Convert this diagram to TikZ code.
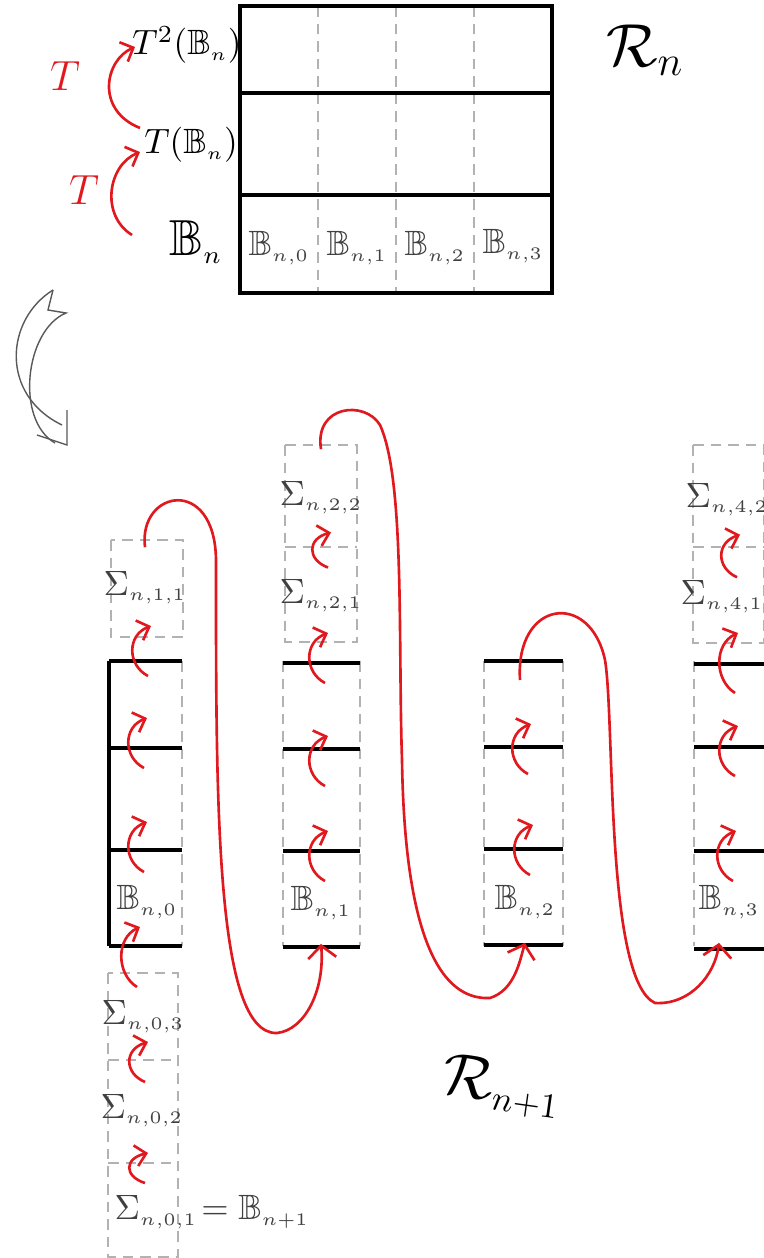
\documentclass[tikz,border=0pt]{standalone}
\usepackage{amsmath,amssymb}
\usepackage[dvipsnames]{xcolor}
\usetikzlibrary{arrows, arrows.meta}
\usetikzlibrary{positioning}

\definecolor{penred}{RGB}{225,25,30}
\tikzset{
	redarrow/.style={penred, line width=0.75pt, -{Straight Barb[length=3pt,width=6pt]}},
	redloop/.style={penred, line width=0.75pt, -{Straight Barb[length=3.5pt,width=8pt]}},
	thickline/.style={line width=1pt},
	cellline/.style={gray!60, densely dashed, line width=0.3pt},
	lbl/.style={text=black!75, font=\normalsize},
	tstep/.pic={\draw[redarrow] (5,-25) .. controls (-16,-14) and (-16,16) .. (8,25);}
}
\newcommand{\idx}[1]{_{\scriptscriptstyle #1}}

\begin{document}
\begin{tikzpicture}[x=0.01cm, y=0.01cm]
						\useasboundingbox (0,0) rectangle (764,-1258);
						\clip (0,0) rectangle (764,-1258);
						% tower R_n
						\draw[cellline] (318,-6) -- (318,-293) (396,-6) -- (396,-293) (474,-6) -- (474,-293);
						\draw[thickline] (240,-6) rectangle (552,-293);
						\draw[thickline] (240,-93) -- (552,-93) (240,-195) -- (552,-195);
						\node[font=\normalsize] (t2b) at (187,-45) {$T^2(\mathbb{B}\idx{n})$};
						\node[font=\normalsize] (t1b) at (191,-145) {$T(\mathbb{B}\idx{n})$};
						\node[font=\Large] (bn) at (196,-242) {$\mathbb{B}\idx{n}$};
						\node[lbl] (c0) at (279,-248) {$\mathbb{B}\idx{n,0}$};
						\node[lbl] (c1) at (357,-248) {$\mathbb{B}\idx{n,1}$};
						\node[lbl] (c2) at (435,-248) {$\mathbb{B}\idx{n,2}$};
						\node[lbl] (c3) at (513,-246) {$\mathbb{B}\idx{n,3}$};
						\node[font=\LARGE] (rn) at (645,-50) {$\mathcal{R}_n$};
						% T moves one floor up
						\node[penred, font=\large] (tt2) at (65,-76) {$T$};
						\node[penred, font=\large] (tt1) at (84,-190) {$T$};
						\draw[redarrow] (140,-128) .. controls (95,-110) and (105,-60) .. (135,-47);
						\draw[redarrow] (132,-235) .. controls (100,-215) and (108,-165) .. (140,-152);
						
						% hollow arrow
						\draw[gray!70!black, line width=0.4pt] (53,-290) .. controls (5,-320) and (0,-395) .. (62,-425);
						\draw[gray!70!black, line width=0.4pt] (53,-290) -- (48,-310) -- (66,-313) .. controls (25,-330) and (15,-420) .. (55,-443);
						\draw[gray!70!black, line width=0.4pt] (67,-410) -- (67,-445) -- (37,-435);
						
						% columns of R_{n+1}
						\draw[cellline] (182,-661) -- (182,-946) (283,-661) -- (283,-946) (360,-661) -- (360,-946)
							(484,-661) -- (484,-946) (563,-661) -- (563,-946) (694,-661) -- (694,-946);
						\draw[thickline] (109,-661) -- (109,-946);
						\draw[thickline] (109,-661) -- (182,-661) (109,-748) -- (182,-748) (109,-850) -- (182,-850) (109,-946) -- (182,-946);
						\draw[thickline] (283,-663) -- (360,-663) (283,-749) -- (360,-749) (283,-851) -- (360,-851) (283,-947) -- (360,-947);
						\draw[thickline] (484,-661) -- (563,-661) (484,-747) -- (563,-747) (484,-849) -- (563,-849) (484,-945) -- (563,-945);
						\draw[thickline] (694,-664) -- (780,-664) (694,-747) -- (780,-747) (694,-851) -- (780,-851) (694,-949) -- (780,-949);
						% spacers
						\draw[cellline] (111,-540) rectangle (183,-637);
						\draw[cellline] (285,-445) rectangle (357,-642) (285,-547) -- (357,-547);
						\draw[cellline] (693,-445) rectangle (764,-643) (693,-547) -- (764,-547);
						\draw[cellline] (108,-973) rectangle (178,-1257) (108,-1060) -- (178,-1060) (108,-1163) -- (178,-1163);
						
						\node[lbl] (s11) at (145,-588) {$\Sigma\idx{n,1,1}$};
						\node[lbl] (s22) at (321,-498) {$\Sigma\idx{n,2,2}$};
						\node[lbl] (s21) at (321,-596) {$\Sigma\idx{n,2,1}$};
						\node[lbl] (s42) at (727,-500) {$\Sigma\idx{n,4,2}$};
						\node[lbl] (s41) at (722,-597) {$\Sigma\idx{n,4,1}$};
						\node[lbl] (b0) at (147,-902) {$\mathbb{B}\idx{n,0}$};
						\node[lbl] (b1) at (321,-903) {$\mathbb{B}\idx{n,1}$};
						\node[lbl] (b2) at (525,-902) {$\mathbb{B}\idx{n,2}$};
						\node[lbl] (b3) at (729,-902) {$\mathbb{B}\idx{n,3}$};
						\node[lbl] (s03) at (143,-1017) {$\Sigma\idx{n,0,3}$};
						\node[lbl] (s02) at (142,-1111) {$\Sigma\idx{n,0,2}$};
						\node[lbl, anchor=west, inner sep=0pt] (s01) at (114,-1212) {$\Sigma\idx{n,0,1}\!=\mathbb{B}\idx{n+1}$};
						\node[font=\LARGE, rotate=-8] (rn1) at (502,-1087) {$\mathcal{R}\idx{n+1}$};
						
						% T inside the columns
						\pic at (143,-651) {tstep};
						\pic at (139,-743) {tstep};
						\pic at (139,-847) {tstep};
						\pic[yscale=1.2] at (132,-957) {tstep};
						\pic[yscale=0.8] at (140,-1062) {tstep};
						\pic[yscale=0.6] at (140,-1168) {tstep};
						\pic at (320,-658) {tstep};
						\pic[yscale=0.7] at (323,-550) {tstep};
						\pic at (320,-761) {tstep};
						\pic at (320,-856) {tstep};
						\pic at (523,-749) {tstep};
						\pic at (525,-850) {tstep};
						\pic[yscale=0.85] at (732,-556) {tstep};
						\pic[yscale=1.2] at (730,-663) {tstep};
						\pic at (730,-751) {tstep};
						\pic at (728,-856) {tstep};
						
						% T from the top of one column to the base of the next
						\draw[redloop] ([yshift=0.12cm]s11.north) .. controls (138,-490) and (215,-475) .. (216,-560)
							.. controls (216,-800) and (215,-1035) .. (277,-1033)
							.. controls (305,-1030) and (325,-990) .. ([yshift=-0.12cm]b1.south);
						\draw[redloop] ([yshift=0.2cm]s22.north) .. controls (314,-405) and (365,-400) .. (380,-425)
							.. controls (405,-480) and (398,-640) .. (402,-760)
							.. controls (405,-960) and (450,-1000) .. (490,-998)
							.. controls (515,-990) and (520,-960) .. ([yshift=-0.12cm]b2.south);
						\draw[redloop] (520,-680) .. controls (515,-600) and (590,-590) .. (605,-660)
							.. controls (615,-720) and (605,-980) .. (655,-1003)
							.. controls (690,-1005) and (715,-975) .. ([yshift=-0.12cm,xshift=-0.1cm]b3.south);
					\end{tikzpicture}
\end{document}
